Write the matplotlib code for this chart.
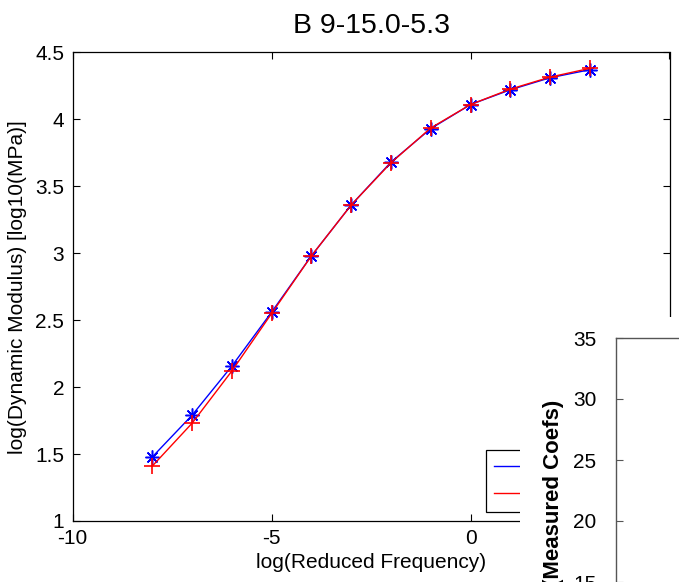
import matplotlib
matplotlib.use("Agg")
import matplotlib.pyplot as plt
from matplotlib.patches import Rectangle

plt.rcParams['font.family'] = ['Liberation Sans', 'DejaVu Sans']

# Master curve: log reduced frequency vs log dynamic modulus
log_freq = [-8, -7, -6, -5, -4, -3, -2, -1, 0, 1, 2, 3]
measured = [1.478, 1.79, 2.157, 2.56, 2.98, 3.36, 3.68, 3.93, 4.11, 4.22, 4.31, 4.37]
fitted = [1.41, 1.73, 2.12, 2.55, 2.98, 3.36, 3.675, 3.935, 4.11, 4.225, 4.315, 4.38]
series_names = ['Measured', 'Fitted']

xticks = [-10, -5, 0, 5]
yticks = [1, 1.5, 2, 2.5, 3, 3.5, 4, 4.5]
coef_ticks = [15, 20, 25, 30, 35]

W, H = 679, 582
fig = plt.figure(figsize=(W / 100, H / 100), dpi=100)

def fx(px):
    return px / W

def fy(py):
    return 1 - py / H

# Main axes
left, right, top, bottom = 72.7, 669.5, 52.3, 521.0
ax = fig.add_axes([fx(left), fy(bottom), fx(right - left), (bottom - top) / H])
ax.set_zorder(0)
ax.plot(log_freq, measured, color='#0000ff', marker=(8, 2, 0), markersize=10,
        markeredgewidth=1.1, linewidth=1.0, label=series_names[0])
ax.plot(log_freq, fitted, color='#ff0000', marker='+', markersize=12,
        markeredgewidth=1.2, linewidth=1.0, label=series_names[1])
ax.set_xlim(-10, 5)
ax.set_ylim(1, 4.5)
ax.set_xticks(xticks)
ax.set_xticklabels(['-10', '-5', '0', ''])
ax.set_yticks(yticks)
ax.set_yticklabels(['1', '1.5', '2', '2.5', '3', '3.5', '4', '4.5'])
ax.tick_params(direction='in', length=5, width=0.8, top=True, right=True,
               labelsize=15, pad=6)
for s in ax.spines.values():
    s.set_linewidth(0.9)
    s.set_color('black')
ax.set_title('B 9-15.0-5.3', fontsize=20.5, pad=14)
ax.set_xlabel('log(Reduced Frequency)', fontsize=15, labelpad=3)
ax.set_ylabel('log(Dynamic Modulus) [log10(MPa)]', fontsize=15, labelpad=6)

leg = ax.legend(loc='upper left', bbox_to_anchor=(fx(485.7), fy(450)),
                bbox_transform=fig.transFigure, borderaxespad=0,
                fontsize=15, frameon=True, fancybox=False, framealpha=1,
                handlelength=2.5, borderpad=0.38, labelspacing=0.4)
leg.get_frame().set_edgecolor('black')
leg.get_frame().set_linewidth(0.9)
for h in leg.legend_handles:
    h.set_marker('')

# White panel of the overlapping coefficient plot
fig.patches.append(Rectangle((fx(520), 0), 1 - fx(520), fy(317),
                             transform=fig.transFigure, facecolor='white',
                             edgecolor='none', zorder=1))

# Coefficient axes
a2_left, a2_top = 615.7, 338.0
px_per_unit = 12.2
ylo, yhi = 10, 35
a2_bottom = a2_top + (yhi - ylo) * px_per_unit
a2_width = 0.4
ax2 = fig.add_axes([fx(a2_left), fy(a2_bottom), a2_width, (a2_bottom - a2_top) / H])
ax2.set_zorder(2)
ax2.set_facecolor('white')
ax2.set_ylim(ylo, yhi)
ax2.set_xlim(0, 1)
ax2.set_xticks([])
ax2.set_yticks(coef_ticks)
ax2.tick_params(direction='in', length=5, width=0.8, color='#555555',
                labelsize=15, pad=14)
for name, s in ax2.spines.items():
    s.set_color('#555555')
    s.set_linewidth(1.0)
ax2.set_ylabel('(Measured Coefs)', fontsize=16, fontweight='bold')
ax2.yaxis.set_label_coords((564 - a2_left) / (a2_width * W),
                           1 - (493 - a2_top) / (a2_bottom - a2_top))

fig.savefig('out.png', dpi=100)
